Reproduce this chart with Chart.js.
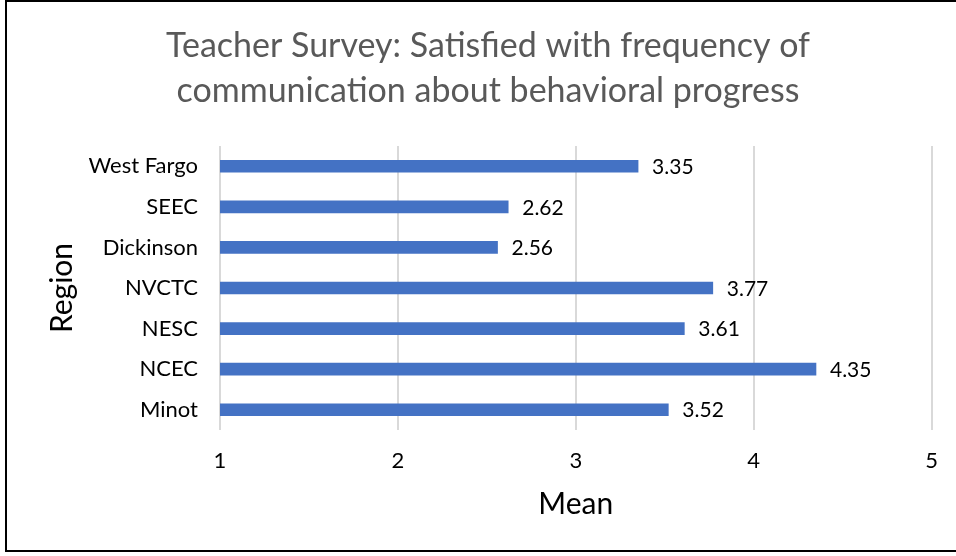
<!DOCTYPE html>
<html>
<head>
<meta charset="utf-8">
<script src="https://cdn.jsdelivr.net/npm/chart.js@4.4.1/dist/chart.umd.min.js"></script>
<style>
  html, body { margin: 0; padding: 0; background: #fff; }
  #wrap { position: relative; width: 956px; height: 556px; overflow: hidden; }
  #frame { position: absolute; left: 5px; top: 0px; width: 1000px; height: 552px; border: 2px solid #000; box-sizing: border-box; pointer-events: none; }
  canvas { position: absolute; left: 0; top: 0; }
</style>
</head>
<body>
<div id="wrap">
  <canvas id="c" width="956" height="556"></canvas>
  <div id="frame"></div>
</div>
<script>
const categories = ['West Fargo', 'SEEC', 'Dickinson', 'NVCTC', 'NESC', 'NCEC', 'Minot'];
const meanValues = [3.35, 2.62, 2.56, 3.77, 3.61, 4.35, 3.52];
const xTicks = [1, 2, 3, 4, 5];
const titleLines = ['Teacher Survey: Satisfied with frequency of', 'communication about behavioral progress'];
const xTitle = 'Mean';
const yTitle = 'Region';

const FONT = 'Lato';
const PAD_LEFT = 44;

const valueLabels = {
  id: 'valueLabels',
  afterDatasetsDraw(chart) {
    const ctx = chart.ctx;
    const meta = chart.getDatasetMeta(0);
    ctx.save();
    ctx.font = '21px ' + FONT;
    ctx.fillStyle = '#000';
    ctx.textAlign = 'left';
    ctx.textBaseline = 'middle';
    meta.data.forEach((bar, i) => {
      ctx.fillText(meanValues[i].toFixed(2), bar.x + 14, bar.y + 1);
    });
    ctx.restore();
  }
};

new Chart(document.getElementById('c'), {
  type: 'bar',
  data: {
    labels: categories,
    datasets: [{
      data: meanValues,
      backgroundColor: '#4472C4',
      borderWidth: 0,
      barThickness: 12
    }]
  },
  options: {
    indexAxis: 'y',
    responsive: false,
    animation: false,
    devicePixelRatio: 1,
    layout: { padding: { left: PAD_LEFT, right: 24, top: 0, bottom: 20 } },
    plugins: {
      legend: { display: false },
      tooltip: { enabled: false },
      title: {
        display: true,
        text: titleLines,
        color: '#595959',
        font: { family: FONT, size: 34, weight: 'normal', lineHeight: 45 / 34 },
        padding: { top: 24, bottom: 32 }
      }
    },
    scales: {
      x: {
        type: 'linear',
        min: 1,
        max: 5,
        afterBuildTicks(scale) { scale.ticks = xTicks.map(v => ({ value: v })); },
        afterFit(scale) { scale.height = 556 - 430 - 20; },
        grid: { color: '#d9d9d9', lineWidth: 2, drawTicks: false },
        border: { display: false },
        ticks: { color: '#000', font: { family: FONT, size: 22 }, padding: 18 },
        title: {
          display: true,
          text: xTitle,
          color: '#000',
          font: { family: FONT, size: 30, lineHeight: 1.2 },
          padding: { top: 0, bottom: 14 }
        }
      },
      y: {
        afterFit(scale) { scale.width = 220 - PAD_LEFT; },
        grid: { display: false, drawTicks: false },
        border: { display: false },
        ticks: { color: '#000', font: { family: FONT, size: 22 }, padding: 22 },
        title: {
          display: true,
          text: yTitle,
          color: '#000',
          font: { family: FONT, size: 30, lineHeight: 1.2 },
          padding: { top: 0, bottom: 0 }
        }
      }
    }
  },
  plugins: [valueLabels]
});
</script>
</body>
</html>
